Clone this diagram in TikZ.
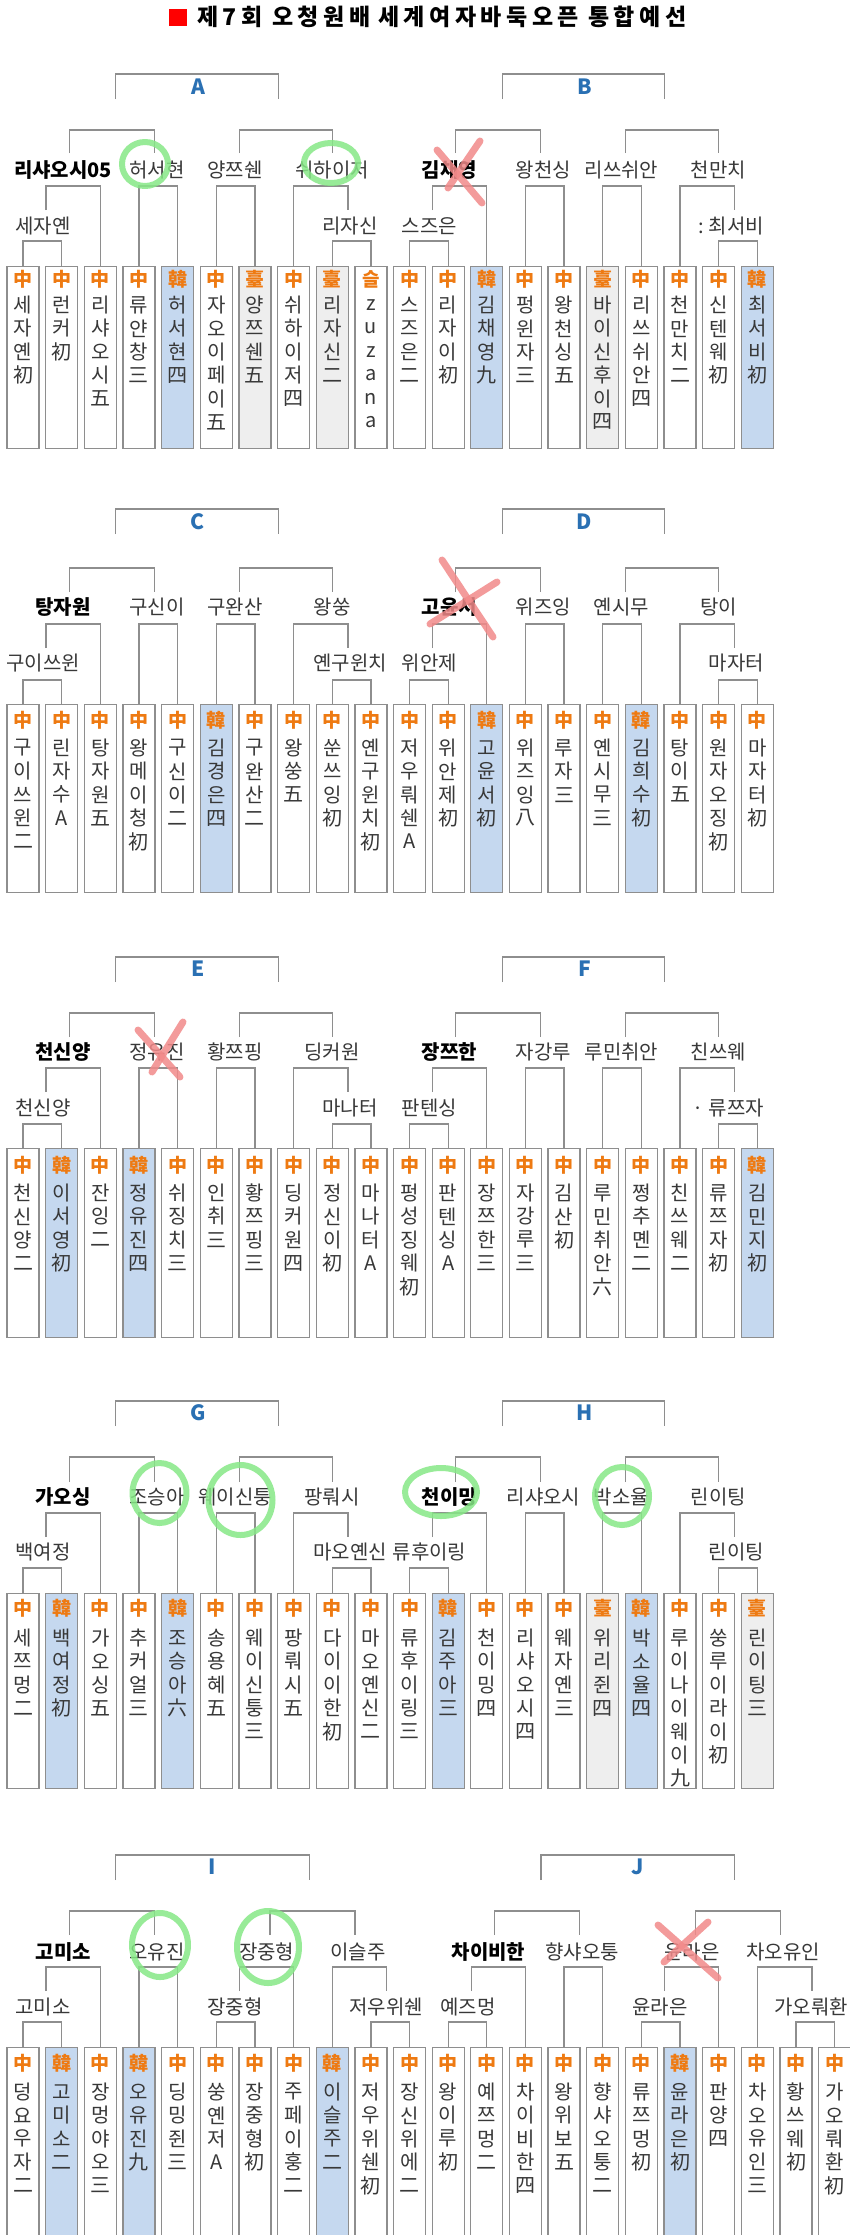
\documentclass[tikz,border=0pt]{standalone}
\usepackage{fontspec}
\setmainfont{Noto Sans CJK KR}
\definecolor{lineg}{HTML}{8E8E8E}
\definecolor{orng}{HTML}{EE7A12}
\definecolor{kblue}{HTML}{C5D8EF}
\definecolor{tgray}{HTML}{EEEEEE}
\definecolor{lblue}{HTML}{2A70B3}
\definecolor{txt}{HTML}{383838}
\definecolor{hlgreen}{HTML}{86E886}
\definecolor{xred}{HTML}{F28A8A}
\tikzset{
  brk/.style={draw=lineg, line width=1.3pt},
  pbx/.style={draw=lineg, line width=1.3pt, inner sep=0pt, minimum width=32pt, anchor=north},
  nm/.style={font=\fontsize{20}{22}\selectfont, text=txt, inner sep=0pt},
  nmb/.style={font=\fontsize{20}{22}\selectfont\bfseries, text=black, inner sep=0pt},
  chr/.style={font=\fontsize{20}{22}\selectfont, text=txt, inner sep=0pt},
  ctry/.style={font=\fontsize{19}{22}\selectfont\bfseries, text=orng, inner sep=0pt},
  grp/.style={font=\fontsize{21}{24}\selectfont\bfseries, text=lblue, inner sep=0pt},
  ttl/.style={font=\fontsize{23}{26}\selectfont\bfseries, text=black, inner sep=0pt, anchor=west},
  hl/.style={draw=hlgreen, line width=6pt, line cap=round, line join=round, opacity=0.85},
  xmark/.style={draw=xred, line width=7pt, line cap=round, opacity=0.85},
}
\newcommand{\setrowA}[7]{\def\rLh{#1}\def\rLb{#2}\def\rLlab{#3}\def\rMh{#4}\def\rMb{#5}\def\rMn{#6}\def\rNh{#7}}
\newcommand{\setrowB}[7]{\def\rNb{#1}\def\rNn{#2}\def\rOh{#3}\def\rTop{#4}\def\rBot{#5}\def\rCy{#6}\def\rFy{#7}}
% player box: gid, col, country, fill, chars
\newcommand{\pb}[5]{%
  \pgfmathsetmacro\colx{23+38.65*#2}%
  \pgfmathsetmacro\boxh{\rBot-\rTop}%
  \node[pbx, fill=#4, minimum height=\boxh pt] (#1b#2) at (\colx,\rTop) {};
  \node[ctry] (#1c#2) at (\colx,\rCy) {#3};
  \foreach \cc [count=\ii from 0] in {#5} {\node[chr] (#1t#2-\ii) at (\colx,{\rFy+23.4*\ii}) {\cc};}
}
% ten-player group
\newcommand{\tengroup}[8]{%
  \draw[brk] (115.7,\rLb) -- (115.7,\rLh) -- (278.3,\rLh) -- (278.3,\rLb);
  \node[grp] (#1lab) at (198,\rLlab) {#2};
  \draw[brk] (69.3,\rMb) -- (69.3,\rMh) -- (154.3,\rMh) -- (154.3,\rMb);
  \draw[brk] (239.3,\rMb) -- (239.3,\rMh) -- (332.3,\rMh) -- (332.3,\rMb);
  \node[nmb] (#1w1) at (63,\rMn) {#3};
  \node[nm] (#1w2) at (157,\rMn) {#4};
  \node[nm] (#1w3) at (235,\rMn) {#5};
  \node[nm] (#1w4) at (332,\rMn) {#6};
  \node[nm] (#1v1) at (43,\rNn) {#7};
  \node[nm] (#1v2) at (350,\rNn) {#8};
  \draw[brk] (46,\rNb) -- (46,\rNh) -| (#1b2.north);
  \draw[brk] (#1b3.north) -- ++(0,\rNh-\rTop) -| (#1b4.north);
  \draw[brk] (#1b5.north) -- ++(0,\rNh-\rTop) -| (#1b6.north);
  \draw[brk] (#1b7.north) -- ++(0,\rNh-\rTop) -| (348,\rNb);
  \draw[brk] (#1b0.north) -- ++(0,\rOh-\rTop) -| (#1b1.north);
  \draw[brk] (#1b8.north) -- ++(0,\rOh-\rTop) -| (#1b9.north);
}
% eleven-player group
\newcommand{\elevgroup}[9]{%
  \draw[brk] (115.7,\rLb) -- (115.7,\rLh) -- (309.3,\rLh) -- (309.3,\rLb);
  \node[grp] (#1lab) at (212.3,\rLlab) {#2};
  \draw[brk] (69.3,\rMb) -- (69.3,\rMh) -- (154.3,\rMh) -- (154.3,\rMb);
  \draw[brk] (270,\rMb) -- (270,\rMh) -- (355,\rMh) -- (355,\rMb);
  \node[nmb] (#1w1) at (63.3,\rMn) {#3};
  \node[nm] (#1w2) at (157,\rMn) {#4};
  \node[nm] (#1w3) at (266.7,\rMn) {#5};
  \node[nm] (#1w4) at (358,\rMn) {#6};
  \node[nm] (#1v1) at (43,\rNn) {#7};
  \node[nm] (#1v2) at (235,\rNn) {#8};
  \node[nm] (#1v3) at (386,\rNn) {#9};
  \draw[brk] (46,\rNb) -- (46,\rNh) -| (#1b2.north);
  \draw[brk] (#1b3.north) -- ++(0,\rNh-\rTop) -| (#1b4.north);
  \draw[brk] (239.3,\rNb) -- (239.3,\rNh) -| (#1b7.north);
  \draw[brk] (#1b8.north) -- ++(0,\rNh-\rTop) -| (386.7,\rNb);
  \draw[brk] (#1b0.north) -- ++(0,\rOh-\rTop) -| (#1b1.north);
  \draw[brk] (#1b5.north) -- ++(0,\rOh-\rTop) -| (#1b6.north);
  \draw[brk] (#1b9.north) -- ++(0,\rOh-\rTop) -| (#1b10.north);
}
\begin{document}
\begin{tikzpicture}[x=1pt,y=-1pt]
\useasboundingbox[fill=white] (0,0) rectangle (850,2235);
% title
\node[fill=red, minimum width=18.4pt, minimum height=17pt, inner sep=0pt, anchor=north west] (sq) at (168.3,8.3) {};
\node[ttl] (t1) at (197,17) {제\kern4.5pt 7\kern4.5pt 회};
\node[ttl] (t2) at (272,17) {오\kern4.5pt 청\kern4.5pt 원\kern4.5pt 배};
\node[ttl] (t3) at (378,17) {세\kern4.5pt 계\kern4.5pt 여\kern4.5pt 자\kern4.5pt 바\kern4.5pt 둑\kern4.5pt 오\kern4.5pt 픈};
\node[ttl] (t4) at (588,17) {통\kern4.5pt 합\kern4.5pt 예\kern4.5pt 선};

% ---------------- row 1 ----------------
\setrowA{74}{99}{87}{130}{153}{170}{186}
\setrowB{210}{226}{241}{266}{448}{279}{305}
\begin{scope}
\pb{A}{0}{中}{white}{세,자,옌,初}
\pb{A}{1}{中}{white}{런,커,初}
\pb{A}{2}{中}{white}{리,샤,오,시,五}
\pb{A}{3}{中}{white}{류,얀,창,三}
\pb{A}{4}{韓}{kblue}{허,서,현,四}
\pb{A}{5}{中}{white}{자,오,이,페,이,五}
\pb{A}{6}{臺}{tgray}{양,쯔,쉔,五}
\pb{A}{7}{中}{white}{쉬,하,이,저,四}
\pb{A}{8}{臺}{tgray}{리,자,신,二}
\pb{A}{9}{슬}{white}{z,u,z,a,n,a}
\tengroup{A}{A}{리샤오시05}{허서현}{양쯔쉔}{쉬하이저}{세자옌}{리자신}
\end{scope}
\begin{scope}[xshift=386.5pt]
\pb{B}{0}{中}{white}{스,즈,은,二}
\pb{B}{1}{中}{white}{리,자,이,初}
\pb{B}{2}{韓}{kblue}{김,채,영,九}
\pb{B}{3}{中}{white}{펑,윈,자,三}
\pb{B}{4}{中}{white}{왕,천,싱,五}
\pb{B}{5}{臺}{tgray}{바,이,신,후,이,四}
\pb{B}{6}{中}{white}{리,쓰,쉬,안,四}
\pb{B}{7}{中}{white}{천,만,치,二}
\pb{B}{8}{中}{white}{신,텐,웨,初}
\pb{B}{9}{韓}{kblue}{최,서,비,初}
\tengroup{B}{B}{김채영}{왕천싱}{리쓰쉬안}{천만치}{스즈은}{\llap{:\kern5pt}최서비}
\end{scope}

% ---------------- row 2 ----------------
\setrowA{509}{534}{522}{568}{592}{607}{624}
\setrowB{648}{663}{680}{704}{892}{720}{748}
\begin{scope}
\pb{C}{0}{中}{white}{구,이,쓰,윈,二}
\pb{C}{1}{中}{white}{린,자,수,A}
\pb{C}{2}{中}{white}{탕,자,원,五}
\pb{C}{3}{中}{white}{왕,메,이,청,初}
\pb{C}{4}{中}{white}{구,신,이,二}
\pb{C}{5}{韓}{kblue}{김,경,은,四}
\pb{C}{6}{中}{white}{구,완,산,二}
\pb{C}{7}{中}{white}{왕,쑹,五}
\pb{C}{8}{中}{white}{쑨,쓰,잉,初}
\pb{C}{9}{中}{white}{옌,구,윈,치,初}
\tengroup{C}{C}{탕자원}{구신이}{구완산}{왕쑹}{구이쓰윈}{옌구윈치}
\end{scope}
\begin{scope}[xshift=386.5pt]
\pb{D}{0}{中}{white}{저,우,뤄,쉔,A}
\pb{D}{1}{中}{white}{위,안,제,初}
\pb{D}{2}{韓}{kblue}{고,윤,서,初}
\pb{D}{3}{中}{white}{위,즈,잉,八}
\pb{D}{4}{中}{white}{루,자,三}
\pb{D}{5}{中}{white}{옌,시,무,三}
\pb{D}{6}{韓}{kblue}{김,희,수,初}
\pb{D}{7}{中}{white}{탕,이,五}
\pb{D}{8}{中}{white}{원,자,오,징,初}
\pb{D}{9}{中}{white}{마,자,터,初}
\tengroup{D}{D}{고윤서}{위즈잉}{옌시무}{탕이}{위안제}{마자터}
\end{scope}

% ---------------- row 3 ----------------
\setrowA{957}{982}{969}{1013}{1037}{1052}{1068}
\setrowB{1092}{1108}{1124}{1148}{1337}{1165}{1193}
\begin{scope}
\pb{E}{0}{中}{white}{천,신,양,二}
\pb{E}{1}{韓}{kblue}{이,서,영,初}
\pb{E}{2}{中}{white}{잔,잉,二}
\pb{E}{3}{韓}{kblue}{정,유,진,四}
\pb{E}{4}{中}{white}{쉬,징,치,三}
\pb{E}{5}{中}{white}{인,취,三}
\pb{E}{6}{中}{white}{황,쯔,핑,三}
\pb{E}{7}{中}{white}{딩,커,원,四}
\pb{E}{8}{中}{white}{정,신,이,初}
\pb{E}{9}{中}{white}{마,나,터,A}
\tengroup{E}{E}{천신양}{정유진}{황쯔핑}{딩커원}{천신양}{마나터}
\end{scope}
\begin{scope}[xshift=386.5pt]
\pb{F}{0}{中}{white}{펑,성,징,웨,初}
\pb{F}{1}{中}{white}{판,텐,싱,A}
\pb{F}{2}{中}{white}{장,쯔,한,三}
\pb{F}{3}{中}{white}{자,강,루,三}
\pb{F}{4}{中}{white}{김,산,初}
\pb{F}{5}{中}{white}{루,민,취,안,六}
\pb{F}{6}{中}{white}{쩡,추,몐,二}
\pb{F}{7}{中}{white}{친,쓰,웨,二}
\pb{F}{8}{中}{white}{류,쯔,자,初}
\pb{F}{9}{韓}{kblue}{김,민,지,初}
\tengroup{F}{F}{장쯔한}{자강루}{루민취안}{친쓰웨}{판텐싱}{\llap{·\kern5pt}류쯔자}
\end{scope}

% ---------------- row 4 ----------------
\setrowA{1401}{1426}{1413}{1457}{1482}{1497}{1513}
\setrowB{1537}{1552}{1568}{1593}{1788}{1608}{1638}
\begin{scope}
\pb{G}{0}{中}{white}{세,쯔,멍,二}
\pb{G}{1}{韓}{kblue}{백,여,정,初}
\pb{G}{2}{中}{white}{가,오,싱,五}
\pb{G}{3}{中}{white}{추,커,얼,三}
\pb{G}{4}{韓}{kblue}{조,승,아,六}
\pb{G}{5}{中}{white}{송,용,혜,五}
\pb{G}{6}{中}{white}{웨,이,신,퉁,三}
\pb{G}{7}{中}{white}{팡,뤄,시,五}
\pb{G}{8}{中}{white}{다,이,이,한,初}
\pb{G}{9}{中}{white}{마,오,옌,신,二}
\tengroup{G}{G}{가오싱}{조승아}{웨이신퉁}{팡뤄시}{백여정}{마오옌신}
\end{scope}
\begin{scope}[xshift=386.5pt]
\pb{H}{0}{中}{white}{류,후,이,링,三}
\pb{H}{1}{韓}{kblue}{김,주,아,三}
\pb{H}{2}{中}{white}{천,이,밍,四}
\pb{H}{3}{中}{white}{리,샤,오,시,四}
\pb{H}{4}{中}{white}{웨,자,옌,三}
\pb{H}{5}{臺}{tgray}{위,리,쥔,四}
\pb{H}{6}{韓}{kblue}{박,소,율,四}
\pb{H}{7}{中}{white}{루,이,나,이,웨,이,九}
\pb{H}{8}{中}{white}{쑹,루,이,라,이,初}
\pb{H}{9}{臺}{tgray}{린,이,팅,三}
\tengroup{H}{H}{천이밍}{리샤오시}{박소율}{린이팅}{류후이링}{린이팅}
\end{scope}

% ---------------- row 5 ----------------
\setrowA{1855}{1880}{1867}{1911}{1935}{1952}{1967}
\setrowB{1991}{2007}{2022}{2047}{2245}{2063}{2092}
\begin{scope}
\pb{I}{0}{中}{white}{덩,요,우,자,二}
\pb{I}{1}{韓}{kblue}{고,미,소,二}
\pb{I}{2}{中}{white}{장,멍,야,오,三}
\pb{I}{3}{韓}{kblue}{오,유,진,九}
\pb{I}{4}{中}{white}{딩,밍,쥔,三}
\pb{I}{5}{中}{white}{쑹,옌,저,A}
\pb{I}{6}{中}{white}{장,중,형,初}
\pb{I}{7}{中}{white}{주,페,이,훙,二}
\pb{I}{8}{韓}{kblue}{이,슬,주,二}
\pb{I}{9}{中}{white}{저,우,위,쉔,初}
\pb{I}{10}{中}{white}{장,신,위,에,二}
\elevgroup{I}{I}{고미소}{오유진}{장중형}{이슬주}{고미소}{장중형}{저우위쉔}
\end{scope}
\begin{scope}[xshift=425.15pt]
\pb{J}{0}{中}{white}{왕,이,루,初}
\pb{J}{1}{中}{white}{예,쯔,멍,二}
\pb{J}{2}{中}{white}{차,이,비,한,四}
\pb{J}{3}{中}{white}{왕,위,보,五}
\pb{J}{4}{中}{white}{향,샤,오,퉁,二}
\pb{J}{5}{中}{white}{류,쯔,멍,初}
\pb{J}{6}{韓}{kblue}{윤,라,은,初}
\pb{J}{7}{中}{white}{판,양,四}
\pb{J}{8}{中}{white}{차,오,유,인,三}
\pb{J}{9}{中}{white}{황,쓰,웨,初}
\pb{J}{10}{中}{white}{가,오,뤄,환,初}
\elevgroup{J}{J}{차이비한}{향샤오퉁}{윤라은}{차오유인}{예즈멍}{윤라은}{가오뤄환}
\end{scope}

% ---------------- annotations ----------------
\draw[hl] (145,164) ellipse [x radius=23, y radius=22];
\draw[hl] (331,163) ellipse [x radius=27, y radius=20];
\draw[hl] (159.5,1493) ellipse [x radius=27, y radius=30];
\draw[hl] (240.5,1500) ellipse [x radius=32, y radius=35];
\draw[hl] (441,1492) ellipse [x radius=36, y radius=24];
\draw[hl] (622,1496) ellipse [x radius=27, y radius=29];
\draw[hl] (160,1945) ellipse [x radius=28, y radius=32];
\draw[hl] (268,1947) ellipse [x radius=31, y radius=36];

\draw[xmark] (437,150) -- (482,203);
\draw[xmark] (480,141) -- (448,188);
\draw[xmark] (442,560) -- (493,637);
\draw[xmark] (497,582) -- (430,624);
\draw[xmark] (138,1030) -- (180,1077);
\draw[xmark] (183,1022) -- (152,1072);
\draw[xmark] (658,1925) -- (718,1978);
\draw[xmark] (708,1922) -- (664,1962);
\end{tikzpicture}
\end{document}
